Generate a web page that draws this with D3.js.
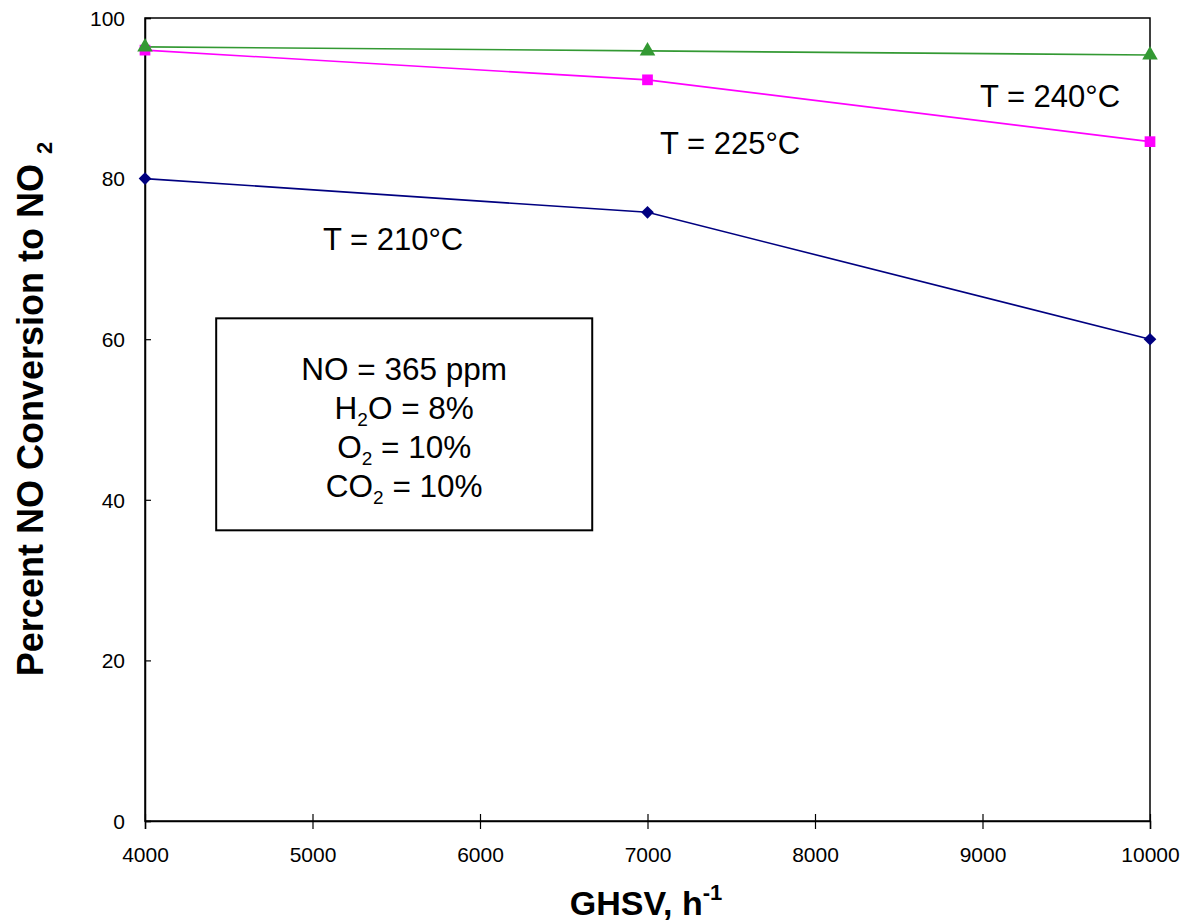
<!DOCTYPE html>
<html>
<head>
<meta charset="utf-8">
<script src="https://cdn.jsdelivr.net/npm/d3@7"></script>
<style>
  html, body { margin: 0; padding: 0; background: #fff; }
  svg { display: block; font-family: "Liberation Sans", Arial, sans-serif; }
</style>
</head>
<body>
<svg id="chart" width="1185" height="924"></svg>
<script>
// ---- data ----
const ghsv = [4000, 7000, 10000];
const conv210 = [80.0, 75.8, 60.0];
const conv225 = [96.0, 92.3, 84.6];
const conv240 = [96.4, 95.9, 95.4];
const xTicks = [4000, 5000, 6000, 7000, 8000, 9000, 10000];
const yTicks = [0, 20, 40, 60, 80, 100];
const seriesNames = ["T = 210\u00B0C", "T = 225\u00B0C", "T = 240\u00B0C"];
const boxLines = ["NO = 365 ppm", "H2O = 8%", "O2 = 10%", "CO2 = 10%"];

// custom rotated-square diamond
const diamond = {
  draw(ctx, size) {
    const r = Math.sqrt(size / 2);
    ctx.moveTo(0, -r); ctx.lineTo(r, 0); ctx.lineTo(0, r); ctx.lineTo(-r, 0); ctx.closePath();
  }
};

const series = [
  { name: seriesNames[0], values: conv210, color: "#000080", symbol: diamond, size: 80, label: [5481, 71.1] },
  { name: seriesNames[1], values: conv225, color: "#FF00FF", symbol: d3.symbolSquare, size: 115, label: [7493, 83.1] },
  { name: seriesNames[2], values: conv240, color: "#339933", symbol: d3.symbolTriangle, size: 105, label: [9403, 88.9] }
];

const svg = d3.select("#chart");
const L = 145, R = 1150, T = 18, B = 821;
const x = d3.scaleLinear().domain([4000, 10000]).range([L, R]);
const y = d3.scaleLinear().domain([0, 100]).range([B, T]);

// frame
svg.append("rect").attr("x", L).attr("y", T).attr("width", R - L).attr("height", B - T)
  .attr("fill", "none").attr("stroke", "#000").attr("stroke-width", 1.5);

// x axis
const xAxis = svg.append("g").attr("transform", `translate(0,${B})`)
  .call(d3.axisBottom(x).tickValues(xTicks).tickFormat(d3.format("d")).tickSize(8).tickPadding(18));
xAxis.select(".domain").attr("stroke-width", 1.5);
xAxis.selectAll(".tick line").attr("y1", -7).attr("stroke-width", 1.2);
xAxis.selectAll(".tick text").attr("y", 41).attr("dy", null)
  .attr("font-size", 21).attr("font-family", "Liberation Sans, Arial, sans-serif").attr("fill", "#000");

// y axis
const yAxis = svg.append("g").attr("transform", `translate(${L},0)`)
  .call(d3.axisLeft(y).tickValues(yTicks).tickSize(-6).tickPadding(20));
yAxis.select(".domain").attr("stroke-width", 1.5);
yAxis.selectAll(".tick line").attr("stroke-width", 1.2);
yAxis.selectAll(".tick text").attr("x", -20).attr("dy", "0.35em")
  .attr("font-size", 21).attr("font-family", "Liberation Sans, Arial, sans-serif").attr("fill", "#000");

// lines and markers
const line = d3.line().x((d, i) => x(ghsv[i])).y(d => y(d));
series.forEach(s => {
  svg.append("path").datum(s.values).attr("d", line)
    .attr("fill", "none").attr("stroke", s.color).attr("stroke-width", 1.6);
});
series.forEach(s => {
  svg.append("g").selectAll("path").data(s.values).join("path")
    .attr("transform", (d, i) => `translate(${x(ghsv[i])},${y(d)})`)
    .attr("d", d3.symbol().type(s.symbol).size(s.size))
    .attr("fill", s.color);
  svg.append("text").attr("x", x(s.label[0])).attr("y", y(s.label[1]))
    .attr("text-anchor", "middle").attr("font-size", 31).attr("fill", "#000")
    .text(s.name);
});

// condition box
const bx0 = x(4425), bx1 = x(6670), by0 = y(62.6), by1 = y(36.2);
svg.append("rect").attr("x", bx0).attr("y", by0).attr("width", bx1 - bx0).attr("height", by1 - by0)
  .attr("fill", "#fff").attr("stroke", "#000").attr("stroke-width", 2);
const cx = (bx0 + bx1) / 2;
const lineBase = [380, 419, 458, 497];
boxLines.forEach((t, i) => {
  const tx = svg.append("text").attr("x", cx).attr("y", lineBase[i])
    .attr("text-anchor", "middle").attr("font-size", 31.5).attr("fill", "#000");
  const m = t.match(/^([A-Z]+?)(2)(.*)$/);
  if (m && i > 0) {
    tx.append("tspan").text(m[1]);
    tx.append("tspan").attr("dy", 7).attr("font-size", 19).text(m[2]);
    tx.append("tspan").attr("dy", -7).text(m[3]);
  } else {
    tx.text(t);
  }
});

// axis titles
const yt = svg.append("text").attr("transform", `translate(43,409) rotate(-90)`)
  .attr("text-anchor", "middle").attr("font-size", 36).attr("font-weight", "bold").attr("fill", "#000");
yt.append("tspan").text("Percent NO Conversion to NO ");
yt.append("tspan").attr("dy", 9).attr("font-size", 22).text("2");

const xt = svg.append("text").attr("x", 646).attr("y", 915)
  .attr("text-anchor", "middle").attr("font-size", 34).attr("font-weight", "bold").attr("fill", "#000");
xt.append("tspan").text("GHSV, h");
xt.append("tspan").attr("dy", -15).attr("font-size", 22).text("-1");
</script>
</body>
</html>
